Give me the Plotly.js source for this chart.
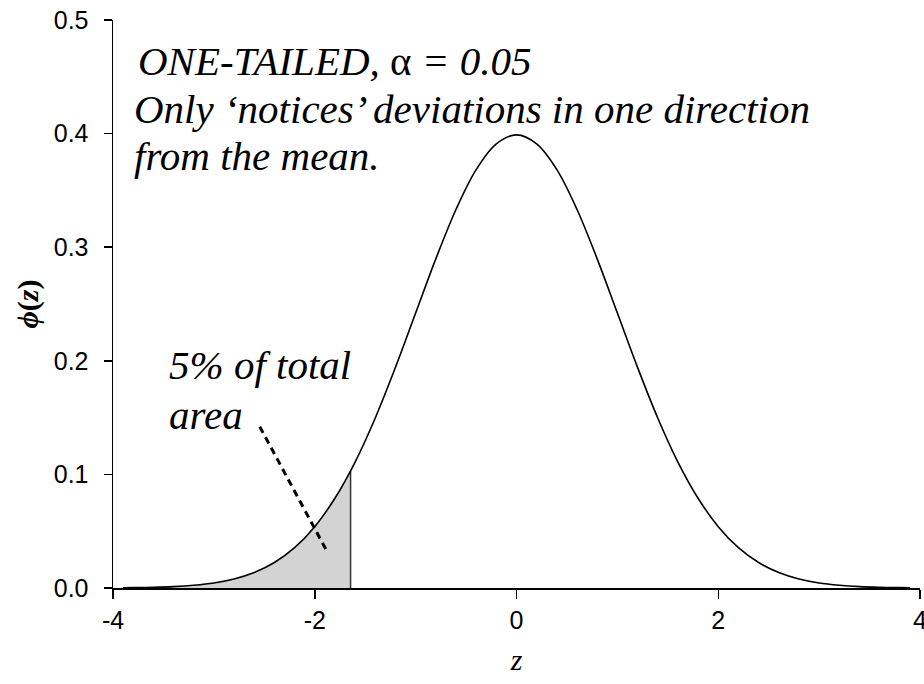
<!DOCTYPE html>
<html>
<head>
<meta charset="utf-8">
<script src="https://cdn.plot.ly/plotly-3.0.1.min.js"></script>
<style>html,body{margin:0;padding:0;background:#fff;}</style>
</head>
<body>
<div id="chart" style="width:924px;height:684px;"></div>
<script>
// Standard normal density
const zVals = [-3.9,-3.8,-3.6,-3.4,-3.2,-3.0,-2.8,-2.6,-2.4,-2.2,-2.0,-1.8,-1.6,-1.4,-1.2,-1.0,-0.8,-0.6,-0.4,-0.2,0,
               0.2,0.4,0.6,0.8,1.0,1.2,1.4,1.6,1.8,2.0,2.2,2.4,2.6,2.8,3.0,3.2,3.4,3.6,3.8,3.9];
const phiVals = [0.0002,0.0003,0.0006,0.0012,0.0024,0.0044,0.0079,0.0136,0.0224,0.0355,0.0540,0.0790,0.1109,0.1497,0.1942,0.2420,0.2897,0.3332,0.3683,0.3910,0.3989,
                 0.3910,0.3683,0.3332,0.2897,0.2420,0.1942,0.1497,0.1109,0.0790,0.0540,0.0355,0.0224,0.0136,0.0079,0.0044,0.0024,0.0012,0.0006,0.0003,0.0002];
// Shaded 5% tail (z < -1.645)
const tailZ = [-3.9,-3.8,-3.6,-3.4,-3.2,-3.0,-2.8,-2.6,-2.4,-2.2,-2.0,-1.8,-1.645];
const tailPhi = [0.0002,0.0003,0.0006,0.0012,0.0024,0.0044,0.0079,0.0136,0.0224,0.0355,0.0540,0.0790,0.1031];
const critZ = [-1.645,-1.645];
const critPhi = [0,0.1031];
// Pointer line for the "5% of total area" label
const pointerZ = [-2.545,-1.871];
const pointerPhi = [0.142,0.031];
// Tick labels
const xTicks = [-4,-2,0,2,4];
const xTickText = ['-4','-2','0','2','4'];
const yTicks = [0,0.1,0.2,0.3,0.4,0.5];
const yTickText = ['0.0','0.1','0.2','0.3','0.4','0.5'];

const serif = '"Liberation Serif", "Times New Roman", "DejaVu Serif", serif';
const sans = '"Liberation Sans", Arial, Helvetica, sans-serif';

const traces = [
  {x: tailZ, y: tailPhi, type:'scatter', mode:'lines', fill:'tozeroy',
   fillcolor:'#d3d3d3', line:{width:0, shape:'spline', color:'#d3d3d3'}, hoverinfo:'skip'},
  {x: critZ, y: critPhi, type:'scatter', mode:'lines', line:{color:'#333333', width:1.5}, hoverinfo:'skip'},
  {x: zVals, y: phiVals, type:'scatter', mode:'lines', line:{color:'#000', width:1.6, shape:'spline'}},
  {x: pointerZ, y: pointerPhi, type:'scatter', mode:'lines', line:{color:'#000', width:3, dash:'7px,5px'}, hoverinfo:'skip'}
];

const annSize = 41;
const layout = {
  width: 924, height: 684,
  margin: {l:113, r:4, t:20, b:96},
  paper_bgcolor:'#fff', plot_bgcolor:'#fff',
  showlegend:false,
  xaxis: {
    range:[-4,4], tickvals:xTicks, ticktext:xTickText,
    ticks:'outside', ticklen:9, tickwidth:1.5, tickcolor:'#000',
    showline:true, linecolor:'#000', linewidth:1.5,
    showgrid:false, zeroline:false, ticklabeloverflow:'allow',
    tickfont:{family:sans, size:25, color:'#000'},
    title:{text:'<i>z</i>', font:{family:serif, size:30, color:'#000'}, standoff:16}
  },
  yaxis: {
    range:[0,0.5], tickvals:yTicks, ticktext:yTickText,
    ticks:'outside', ticklen:8, tickwidth:1.5, tickcolor:'#000',
    showline:true, linecolor:'#000', linewidth:1.5,
    showgrid:false, zeroline:false, ticklabelstandoff:10,
    tickfont:{family:sans, size:25, color:'#000'},
    title:{text:'<b><i>ϕ</i>(<i>z</i>)</b>', font:{family:serif, size:30, color:'#000'}, standoff:6}
  },
  annotations: [
    {xref:'paper', yref:'y', x:0.029, y:0.464, xanchor:'left', yanchor:'middle', showarrow:false,
     text:'<i>ONE-TAILED, </i>α<i> = 0.05</i>', font:{family:serif, size:annSize, color:'#000'}},
    {xref:'paper', yref:'y', x:0.024, y:0.4216, xanchor:'left', yanchor:'middle', showarrow:false,
     text:'<i>Only ‘notices’ deviations in one direction</i>', font:{family:serif, size:annSize, color:'#000'}},
    {xref:'paper', yref:'y', x:0.024, y:0.380, xanchor:'left', yanchor:'middle', showarrow:false,
     text:'<i>from the mean.</i>', font:{family:serif, size:annSize, color:'#000'}},
    {xref:'x', yref:'y', x:-3.46, y:0.1966, xanchor:'left', yanchor:'middle', showarrow:false,
     text:'<i>5% of total</i>', font:{family:serif, size:annSize, color:'#000'}},
    {xref:'x', yref:'y', x:-3.46, y:0.152, xanchor:'left', yanchor:'middle', showarrow:false,
     text:'<i>area</i>', font:{family:serif, size:annSize, color:'#000'}}
  ]
};

Plotly.newPlot('chart', traces, layout, {displayModeBar:false, staticPlot:true});
</script>
</body>
</html>
